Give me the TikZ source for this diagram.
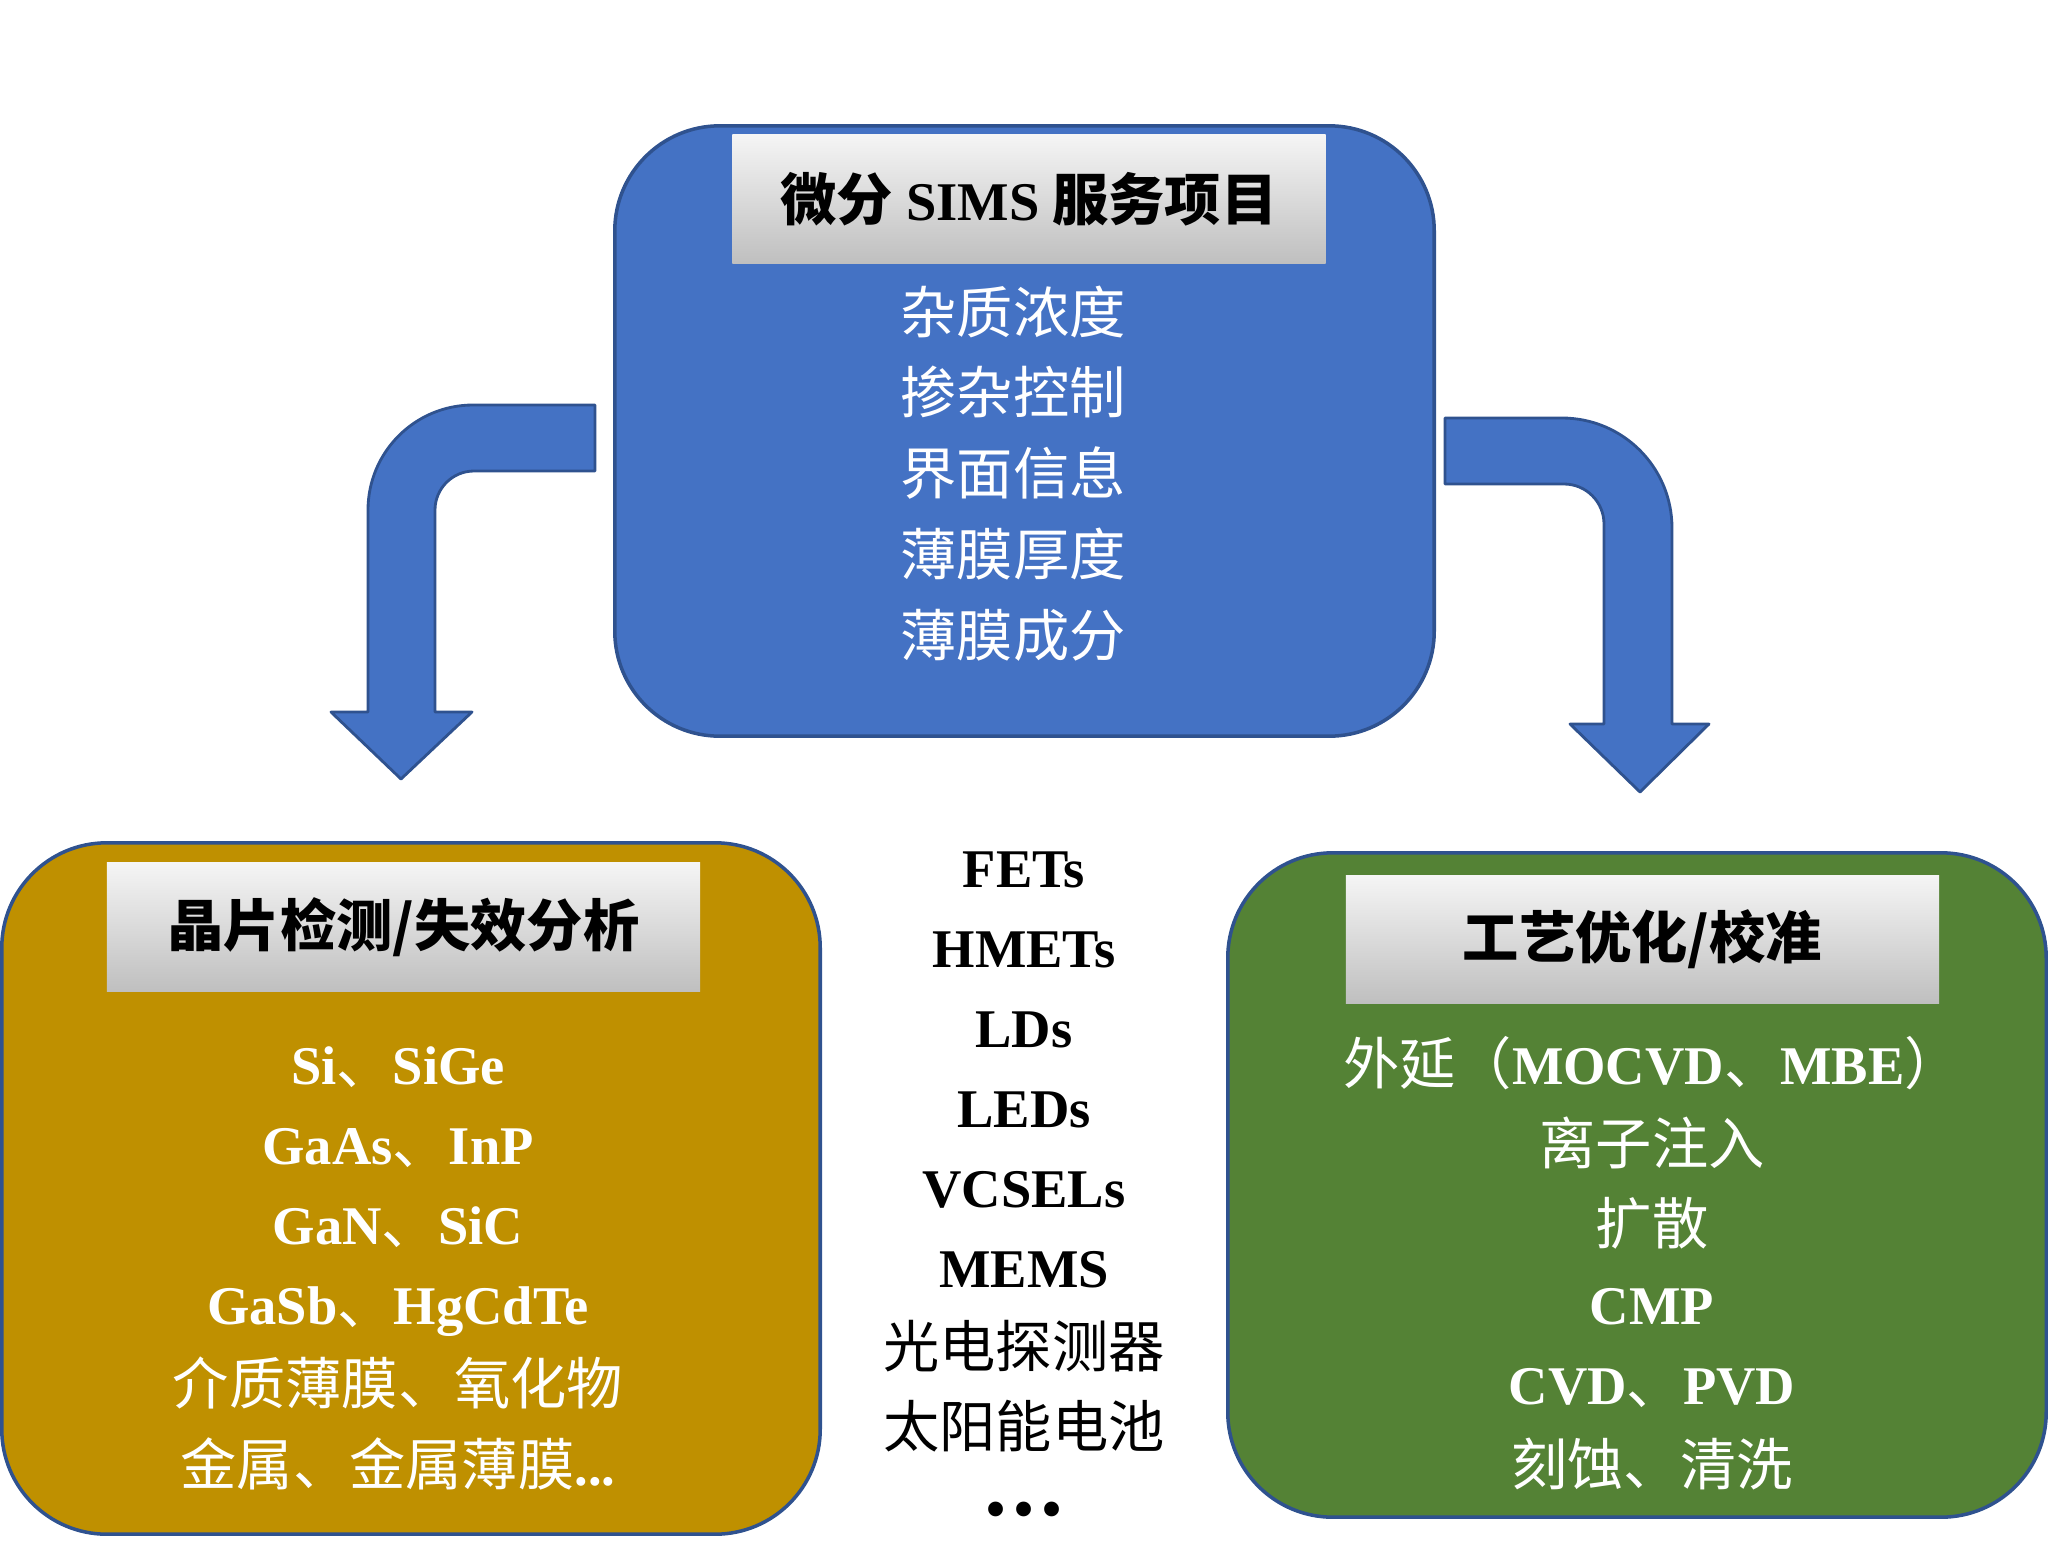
\documentclass[tikz,border=0pt]{standalone}
\usepackage{fontspec}
\setmainfont{Liberation Serif}
\newfontfamily\zh{Noto Sans CJK SC}
\usepackage{tikz}

\definecolor{simsblue}{HTML}{4472C4}
\definecolor{simsedge}{HTML}{2F528F}
\definecolor{wafergold}{HTML}{BF9000}
\definecolor{procgreen}{HTML}{548235}

\newcommand{\en}[1]{{\rmfamily\bfseries\fontsize{15.5}{18}\selectfont #1}}

\tikzset{
  card/.style={draw=simsedge, line width=1pt, rounded corners=1.05cm, inner sep=0pt},
  bar/.style={top color=gray!8, bottom color=gray!50, inner sep=0pt,
    minimum width=5.93cm, minimum height=1.28cm,
    font=\zh\bfseries\fontsize{16}{19}\selectfont},
  item/.style={font=\zh\fontsize{16}{19}\selectfont, text=white, anchor=base, inner sep=0pt},
  blockarrow/.style={fill=simsblue, draw=simsedge, line width=0.8pt, line join=round},
}

\begin{document}
\begin{tikzpicture}[x=0.01cm, y=-0.01cm]
  \useasboundingbox (0,0) rectangle (2048,1548);

  % the three cards
  \node[card, fill=simsblue, minimum width=8.19cm, minimum height=6.10cm]
    (sims) at (1024.5,431) {};
  \node[card, fill=wafergold, minimum width=8.18cm, minimum height=6.91cm]
    (wafer) at (411,1188.5) {};
  \node[card, fill=procgreen, minimum width=8.18cm, minimum height=6.64cm]
    (process) at (1637,1185) {};

  % title bars
  \node[bar] (sims-bar) at (1029,199) {微分 \en{SIMS} 服务项目};
  \node[bar] (wafer-bar) at (403.5,927) {晶片检测/失效分析};
  \node[bar] (process-bar) at (1642.5,939.5) {工艺优化/校准};

  % items
  \foreach \txt [count=\i from 0] in {杂质浓度, 掺杂控制, 界面信息, 薄膜厚度, 薄膜成分}
    \node[item] (sims-\i) at (1013,333+80.75*\i) {\txt};
  \foreach \txt [count=\i from 0] in {\en{Si}、\en{SiGe}, \en{GaAs}、\en{InP},
      \en{GaN}、\en{SiC}, \en{GaSb}、\en{HgCdTe}, 介质薄膜、氧化物, 金属、金属薄膜\en{...}}
    \node[item] (wafer-\i) at (398,1084+80.2*\i) {\txt};
  \foreach \txt [count=\i from 0] in {外延（\en{MOCVD}、\en{MBE}）, 离子注入, 扩散,
      \en{CMP}, \en{CVD}、\en{PVD}, 刻蚀、清洗}
    \node[item] (process-\i) at (1652,1084+80.2*\i) {\txt};
  \foreach \txt [count=\i from 0] in {\en{FETs}, \en{HMETs}, \en{LDs}, \en{LEDs},
      \en{VCSELs}, \en{MEMS}, 光电探测器, 太阳能电池, \en{•\,•\,•}}
    \node[item, text=black] (device-\i) at (1024,887+80.1*\i) {\txt};

  % bent arrows
  \filldraw[blockarrow]
    (595,405) -- (473,405) .. controls (415,405) and (368,452) .. (368,510)
    -- (368,712) -- (331,712) -- (401,779) -- (472,712) -- (435,712)
    -- (435,510) .. controls (435,488.5) and (452.5,471) .. (474,471)
    -- (595,471) -- cycle;
  \filldraw[blockarrow]
    (1445,418) -- (1562,418) .. controls (1622.75,418) and (1672,467.25) .. (1672,528)
    -- (1672,724) -- (1709,724) -- (1640,792) -- (1570,724) -- (1604,724)
    -- (1604,524) .. controls (1604,501.9) and (1586.1,484) .. (1564,484)
    -- (1445,484) -- cycle;
\end{tikzpicture}
\end{document}
